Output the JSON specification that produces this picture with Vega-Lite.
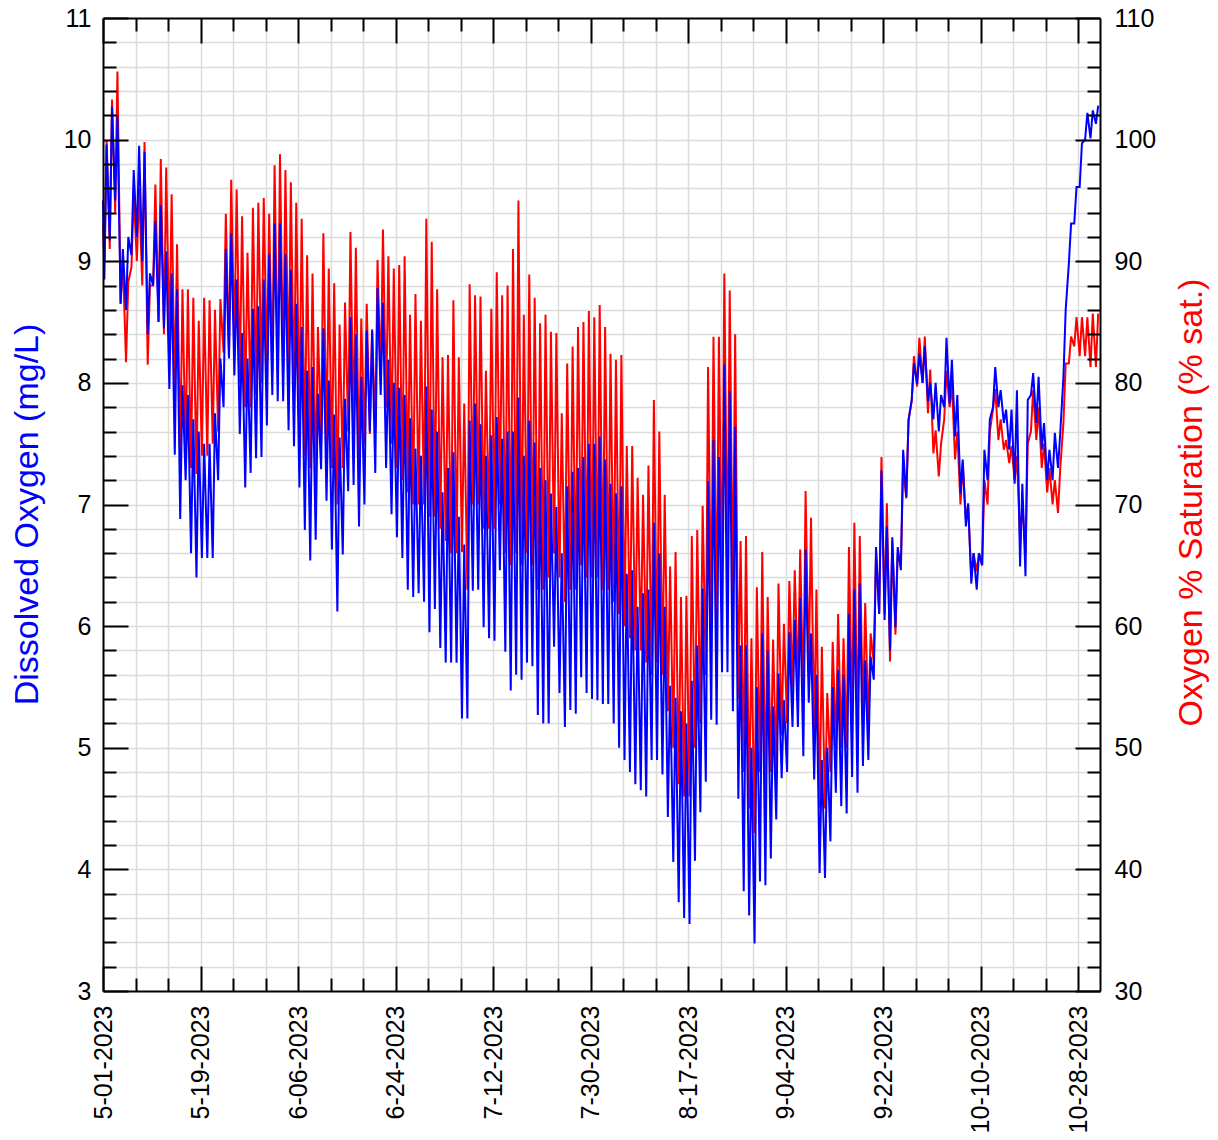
{
"$schema":"https://vega.github.io/schema/vega-lite/v6.json",
"width":997,"height":973,
"autosize":"none",
"padding":{"left":103,"top":18,"right":118,"bottom":149},
"background":"white",
"config":{"view":{"stroke":null},"axis":{"labelFont":"Liberation Sans","titleFont":"Liberation Sans","labelColor":"black","tickColor":"black","tickWidth":2,"domainColor":"black","domainWidth":2,"gridColor":"#dcdcdc","gridWidth":1.5,"labelFlush":false,"labelOverlap":false,"labelBound":false,"titleFontWeight":"normal"}},
"data":{"values":[
{"t":"2023-05-01T00:00","o":9.5,"s":93},
{"t":"2023-05-01T06:00","o":8.85,"s":90},{"t":"2023-05-01T16:00","o":9.96,"s":99.9},
{"t":"2023-05-02T06:00","o":9.17,"s":91},{"t":"2023-05-02T16:00","o":10.27,"s":103.3},
{"t":"2023-05-03T06:00","o":9.5,"s":94},{"t":"2023-05-03T16:00","o":10.2,"s":105.6},
{"t":"2023-05-04T06:00","o":8.65,"s":86.5},{"t":"2023-05-04T16:00","o":9.1,"s":90},
{"t":"2023-05-05T06:00","o":8.6,"s":81.7},{"t":"2023-05-05T16:00","o":9.2,"s":88.3},
{"t":"2023-05-06T06:00","o":9.05,"s":89.5},{"t":"2023-05-06T16:00","o":9.75,"s":95.5},
{"t":"2023-05-07T06:00","o":9.2,"s":90},{"t":"2023-05-07T16:00","o":9.95,"s":96},
{"t":"2023-05-08T06:00","o":9.0,"s":88},{"t":"2023-05-08T16:00","o":9.9,"s":99.8},
{"t":"2023-05-09T06:00","o":8.4,"s":81.5},{"t":"2023-05-09T16:00","o":8.9,"s":88},
{"t":"2023-05-10T06:00","o":8.8,"s":88},{"t":"2023-05-10T16:00","o":9.33,"s":96.3},
{"t":"2023-05-11T06:00","o":8.5,"s":85},{"t":"2023-05-11T16:00","o":9.46,"s":98.4},
{"t":"2023-05-12T06:00","o":8.45,"s":84},{"t":"2023-05-12T16:00","o":9.08,"s":97.7},
{"t":"2023-05-13T06:00","o":7.95,"s":83},{"t":"2023-05-13T16:00","o":8.9,"s":95.5},
{"t":"2023-05-14T06:00","o":7.41,"s":79},{"t":"2023-05-14T16:00","o":8.77,"s":91.4},
{"t":"2023-05-15T06:00","o":6.88,"s":74},{"t":"2023-05-15T16:00","o":7.98,"s":87.7},
{"t":"2023-05-16T06:00","o":7.2,"s":74},{"t":"2023-05-16T16:00","o":7.9,"s":87.7},
{"t":"2023-05-17T06:00","o":6.6,"s":73},{"t":"2023-05-17T16:00","o":7.7,"s":87},
{"t":"2023-05-18T06:00","o":6.4,"s":72.5},{"t":"2023-05-18T16:00","o":7.6,"s":85.1},
{"t":"2023-05-19T06:00","o":6.56,"s":74},{"t":"2023-05-19T16:00","o":7.5,"s":87},
{"t":"2023-05-20T06:00","o":6.56,"s":74},{"t":"2023-05-20T16:00","o":7.5,"s":86.8},
{"t":"2023-05-21T06:00","o":6.56,"s":75},{"t":"2023-05-21T16:00","o":7.75,"s":86},
{"t":"2023-05-22T06:00","o":7.2,"s":76},{"t":"2023-05-22T16:00","o":8.2,"s":86.9},
{"t":"2023-05-23T06:00","o":7.8,"s":82.5},{"t":"2023-05-23T16:00","o":9.1,"s":93.9},
{"t":"2023-05-24T06:00","o":8.2,"s":82.3},{"t":"2023-05-24T16:00","o":9.23,"s":96.7},
{"t":"2023-05-25T06:00","o":8.06,"s":83},{"t":"2023-05-25T16:00","o":8.85,"s":95.9},
{"t":"2023-05-26T06:00","o":7.58,"s":80},{"t":"2023-05-26T16:00","o":8.41,"s":93.7},
{"t":"2023-05-27T06:00","o":7.14,"s":78},{"t":"2023-05-27T16:00","o":8.2,"s":90.7},
{"t":"2023-05-28T06:00","o":7.26,"s":78},{"t":"2023-05-28T16:00","o":8.61,"s":94.4},
{"t":"2023-05-29T06:00","o":7.38,"s":79},{"t":"2023-05-29T16:00","o":8.63,"s":94.8},
{"t":"2023-05-30T06:00","o":7.39,"s":80},{"t":"2023-05-30T16:00","o":8.85,"s":95.2},
{"t":"2023-05-31T06:00","o":7.65,"s":81},{"t":"2023-05-31T16:00","o":9.06,"s":93.9},
{"t":"2023-06-01T06:00","o":7.9,"s":80.8},{"t":"2023-06-01T16:00","o":9.31,"s":97.9},
{"t":"2023-06-02T06:00","o":7.85,"s":80.4},{"t":"2023-06-02T16:00","o":9.31,"s":98.8},
{"t":"2023-06-03T06:00","o":7.85,"s":81},{"t":"2023-06-03T16:00","o":9.06,"s":97.5},
{"t":"2023-06-04T06:00","o":7.61,"s":80},{"t":"2023-06-04T16:00","o":8.93,"s":96.5},
{"t":"2023-06-05T06:00","o":7.48,"s":79},{"t":"2023-06-05T16:00","o":8.65,"s":94.8},
{"t":"2023-06-06T06:00","o":7.14,"s":77},{"t":"2023-06-06T16:00","o":8.46,"s":93.5},
{"t":"2023-06-07T06:00","o":6.79,"s":74},{"t":"2023-06-07T16:00","o":8.1,"s":90.5},
{"t":"2023-06-08T06:00","o":6.54,"s":73},{"t":"2023-06-08T16:00","o":8.13,"s":89},
{"t":"2023-06-09T06:00","o":6.71,"s":72},{"t":"2023-06-09T16:00","o":7.91,"s":84.6},
{"t":"2023-06-10T06:00","o":7.29,"s":75},{"t":"2023-06-10T16:00","o":8.45,"s":92.3},
{"t":"2023-06-11T06:00","o":7.03,"s":75},{"t":"2023-06-11T16:00","o":8.02,"s":89.4},
{"t":"2023-06-12T06:00","o":6.63,"s":73},{"t":"2023-06-12T16:00","o":7.74,"s":88.2},
{"t":"2023-06-13T06:00","o":6.12,"s":70},{"t":"2023-06-13T16:00","o":7.55,"s":84.8},
{"t":"2023-06-14T06:00","o":6.59,"s":73},{"t":"2023-06-14T16:00","o":7.87,"s":86.6},
{"t":"2023-06-15T06:00","o":7.11,"s":76},{"t":"2023-06-15T16:00","o":8.54,"s":92.4},
{"t":"2023-06-16T06:00","o":7.16,"s":76},{"t":"2023-06-16T16:00","o":8.4,"s":91.1},
{"t":"2023-06-17T06:00","o":6.82,"s":73},{"t":"2023-06-17T16:00","o":8.05,"s":85.3},
{"t":"2023-06-18T06:00","o":7.0,"s":75},{"t":"2023-06-18T16:00","o":8.43,"s":86.5},
{"t":"2023-06-19T06:00","o":7.6,"s":75.8},{"t":"2023-06-19T16:00","o":8.43,"s":84.4},
{"t":"2023-06-20T06:00","o":7.26,"s":76},{"t":"2023-06-20T16:00","o":8.78,"s":90.1},
{"t":"2023-06-21T06:00","o":7.9,"s":80},{"t":"2023-06-21T16:00","o":8.66,"s":92.6},
{"t":"2023-06-22T06:00","o":7.3,"s":78},{"t":"2023-06-22T16:00","o":8.19,"s":90.4},
{"t":"2023-06-23T06:00","o":6.92,"s":75},{"t":"2023-06-23T16:00","o":8.0,"s":89.4},
{"t":"2023-06-24T06:00","o":6.73,"s":73},{"t":"2023-06-24T16:00","o":7.96,"s":89.7},
{"t":"2023-06-25T06:00","o":6.56,"s":72},{"t":"2023-06-25T16:00","o":7.9,"s":90.4},
{"t":"2023-06-26T06:00","o":6.3,"s":71},{"t":"2023-06-26T16:00","o":7.71,"s":85.6},
{"t":"2023-06-27T06:00","o":6.24,"s":70},{"t":"2023-06-27T16:00","o":7.46,"s":87.3},
{"t":"2023-06-28T06:00","o":6.27,"s":70},{"t":"2023-06-28T16:00","o":7.4,"s":85.1},
{"t":"2023-06-29T06:00","o":6.2,"s":70},{"t":"2023-06-29T16:00","o":7.97,"s":93.5},
{"t":"2023-06-30T06:00","o":5.95,"s":69},{"t":"2023-06-30T16:00","o":7.78,"s":91.6},
{"t":"2023-07-01T06:00","o":6.14,"s":69},{"t":"2023-07-01T16:00","o":7.6,"s":87.7},
{"t":"2023-07-02T06:00","o":5.82,"s":68},{"t":"2023-07-02T16:00","o":7.1,"s":82.1},
{"t":"2023-07-03T06:00","o":5.7,"s":67},{"t":"2023-07-03T16:00","o":7.3,"s":82.3},
{"t":"2023-07-04T06:00","o":5.7,"s":66},{"t":"2023-07-04T16:00","o":7.43,"s":86.8},
{"t":"2023-07-05T06:00","o":5.7,"s":66},{"t":"2023-07-05T16:00","o":6.9,"s":82.1},
{"t":"2023-07-06T06:00","o":5.24,"s":66.1},{"t":"2023-07-06T16:00","o":6.67,"s":78.3},
{"t":"2023-07-07T06:00","o":5.24,"s":63},{"t":"2023-07-07T16:00","o":7.69,"s":88.1},
{"t":"2023-07-08T06:00","o":6.29,"s":70},{"t":"2023-07-08T16:00","o":7.83,"s":87.2},
{"t":"2023-07-09T06:00","o":6.3,"s":70},{"t":"2023-07-09T16:00","o":7.66,"s":87.1},
{"t":"2023-07-10T06:00","o":5.99,"s":68},{"t":"2023-07-10T16:00","o":7.4,"s":81},
{"t":"2023-07-11T06:00","o":5.9,"s":68},{"t":"2023-07-11T16:00","o":7.57,"s":86.1},
{"t":"2023-07-12T06:00","o":5.88,"s":68},{"t":"2023-07-12T16:00","o":7.72,"s":89.1},
{"t":"2023-07-13T06:00","o":6.46,"s":70},{"t":"2023-07-13T16:00","o":7.54,"s":87.2},
{"t":"2023-07-14T06:00","o":5.79,"s":66},{"t":"2023-07-14T16:00","o":7.6,"s":88},
{"t":"2023-07-15T06:00","o":5.47,"s":65},{"t":"2023-07-15T16:00","o":7.6,"s":91},
{"t":"2023-07-16T06:00","o":5.6,"s":66},{"t":"2023-07-16T16:00","o":7.88,"s":95},
{"t":"2023-07-17T06:00","o":5.56,"s":65},{"t":"2023-07-17T16:00","o":7.4,"s":85.6},
{"t":"2023-07-18T06:00","o":5.7,"s":66},{"t":"2023-07-18T16:00","o":7.69,"s":88.9},
{"t":"2023-07-19T06:00","o":5.67,"s":65},{"t":"2023-07-19T16:00","o":7.51,"s":87},
{"t":"2023-07-20T06:00","o":5.27,"s":63},{"t":"2023-07-20T16:00","o":7.3,"s":84.9},
{"t":"2023-07-21T06:00","o":5.2,"s":63},{"t":"2023-07-21T16:00","o":7.2,"s":85.6},
{"t":"2023-07-22T06:00","o":5.2,"s":64},{"t":"2023-07-22T16:00","o":7.09,"s":84.2},
{"t":"2023-07-23T06:00","o":5.83,"s":66},{"t":"2023-07-23T16:00","o":6.98,"s":84.1},
{"t":"2023-07-24T06:00","o":5.45,"s":64},{"t":"2023-07-24T16:00","o":6.6,"s":77.5},
{"t":"2023-07-25T06:00","o":5.17,"s":62},{"t":"2023-07-25T16:00","o":7.15,"s":81.6},
{"t":"2023-07-26T06:00","o":5.31,"s":63},{"t":"2023-07-26T16:00","o":7.27,"s":83},
{"t":"2023-07-27T06:00","o":5.28,"s":63},{"t":"2023-07-27T16:00","o":7.3,"s":84.6},
{"t":"2023-07-28T06:00","o":5.58,"s":65},{"t":"2023-07-28T16:00","o":7.39,"s":85},
{"t":"2023-07-29T06:00","o":5.45,"s":64},{"t":"2023-07-29T16:00","o":7.5,"s":85.9},
{"t":"2023-07-30T06:00","o":5.4,"s":64},{"t":"2023-07-30T16:00","o":7.5,"s":85.4},
{"t":"2023-07-31T06:00","o":5.39,"s":64},{"t":"2023-07-31T16:00","o":7.56,"s":86.4},
{"t":"2023-08-01T06:00","o":5.36,"s":63},{"t":"2023-08-01T16:00","o":7.37,"s":84.6},
{"t":"2023-08-02T06:00","o":5.36,"s":63},{"t":"2023-08-02T16:00","o":7.17,"s":82.4},
{"t":"2023-08-03T06:00","o":5.2,"s":62},{"t":"2023-08-03T16:00","o":7.09,"s":81.9},
{"t":"2023-08-04T06:00","o":5.0,"s":61},{"t":"2023-08-04T16:00","o":7.15,"s":82.3},
{"t":"2023-08-05T06:00","o":4.9,"s":60},{"t":"2023-08-05T16:00","o":6.43,"s":74.8},
{"t":"2023-08-06T06:00","o":4.8,"s":59},{"t":"2023-08-06T16:00","o":6.46,"s":74.8},
{"t":"2023-08-07T06:00","o":4.7,"s":58},{"t":"2023-08-07T16:00","o":6.16,"s":72.2},
{"t":"2023-08-08T06:00","o":4.65,"s":58},{"t":"2023-08-08T16:00","o":6.27,"s":70.8},
{"t":"2023-08-09T06:00","o":4.6,"s":57},{"t":"2023-08-09T16:00","o":6.3,"s":73.2},
{"t":"2023-08-10T06:00","o":4.9,"s":56},{"t":"2023-08-10T16:00","o":6.85,"s":78.6},
{"t":"2023-08-11T06:00","o":4.9,"s":57},{"t":"2023-08-11T16:00","o":6.6,"s":76},
{"t":"2023-08-12T06:00","o":4.78,"s":56},{"t":"2023-08-12T16:00","o":6.16,"s":70.8},
{"t":"2023-08-13T06:00","o":4.43,"s":53},{"t":"2023-08-13T16:00","o":5.51,"s":64.9},
{"t":"2023-08-14T06:00","o":4.06,"s":50},{"t":"2023-08-14T16:00","o":5.41,"s":66.1},
{"t":"2023-08-15T06:00","o":3.73,"s":47},{"t":"2023-08-15T16:00","o":5.3,"s":62.4},
{"t":"2023-08-16T06:00","o":3.6,"s":46},{"t":"2023-08-16T16:00","o":5.2,"s":62.5},
{"t":"2023-08-17T06:00","o":3.55,"s":46},{"t":"2023-08-17T16:00","o":5.55,"s":67.4},
{"t":"2023-08-18T06:00","o":4.07,"s":50},{"t":"2023-08-18T16:00","o":5.84,"s":67.9},
{"t":"2023-08-19T06:00","o":4.47,"s":52},{"t":"2023-08-19T16:00","o":6.31,"s":69.9},
{"t":"2023-08-20T06:00","o":4.72,"s":56},{"t":"2023-08-20T16:00","o":7.19,"s":81.3},
{"t":"2023-08-21T06:00","o":5.23,"s":60},{"t":"2023-08-21T16:00","o":7.53,"s":83.8},
{"t":"2023-08-22T06:00","o":5.19,"s":60},{"t":"2023-08-22T16:00","o":7.39,"s":83.8},
{"t":"2023-08-23T06:00","o":5.62,"s":63},{"t":"2023-08-23T16:00","o":8.15,"s":89},
{"t":"2023-08-24T06:00","o":5.62,"s":64},{"t":"2023-08-24T16:00","o":7.93,"s":87.6},
{"t":"2023-08-25T06:00","o":5.3,"s":62},{"t":"2023-08-25T16:00","o":7.64,"s":84},
{"t":"2023-08-26T06:00","o":4.58,"s":54},{"t":"2023-08-26T16:00","o":5.84,"s":67},
{"t":"2023-08-27T06:00","o":3.82,"s":48},{"t":"2023-08-27T16:00","o":5.84,"s":67.4},
{"t":"2023-08-28T06:00","o":3.62,"s":45},{"t":"2023-08-28T16:00","o":5.0,"s":59},
{"t":"2023-08-29T06:00","o":3.39,"s":43},{"t":"2023-08-29T16:00","o":5.5,"s":63.2},
{"t":"2023-08-30T06:00","o":3.9,"s":48},{"t":"2023-08-30T16:00","o":5.94,"s":66.1},
{"t":"2023-08-31T06:00","o":3.87,"s":46},{"t":"2023-08-31T16:00","o":5.8,"s":62.4},
{"t":"2023-09-01T06:00","o":4.09,"s":48},{"t":"2023-09-01T16:00","o":5.34,"s":58.9},
{"t":"2023-09-02T06:00","o":4.41,"s":48},{"t":"2023-09-02T16:00","o":5.61,"s":63.5},
{"t":"2023-09-03T06:00","o":4.75,"s":51},{"t":"2023-09-03T16:00","o":5.39,"s":60.2},
{"t":"2023-09-04T06:00","o":4.8,"s":52},{"t":"2023-09-04T16:00","o":5.95,"s":63.7},
{"t":"2023-09-05T06:00","o":5.17,"s":55},{"t":"2023-09-05T16:00","o":6.05,"s":64.6},
{"t":"2023-09-06T06:00","o":5.17,"s":55},{"t":"2023-09-06T16:00","o":6.23,"s":66.3},
{"t":"2023-09-07T06:00","o":4.93,"s":54},{"t":"2023-09-07T16:00","o":6.63,"s":71.1},
{"t":"2023-09-08T06:00","o":5.37,"s":56},{"t":"2023-09-08T16:00","o":5.94,"s":68.9},
{"t":"2023-09-09T06:00","o":4.74,"s":51},{"t":"2023-09-09T16:00","o":5.6,"s":63},
{"t":"2023-09-10T06:00","o":3.97,"s":45},{"t":"2023-09-10T16:00","o":4.9,"s":58.3},
{"t":"2023-09-11T06:00","o":3.93,"s":45},{"t":"2023-09-11T16:00","o":5.0,"s":54.5},
{"t":"2023-09-12T06:00","o":4.23,"s":48},{"t":"2023-09-12T16:00","o":5.5,"s":58.7},
{"t":"2023-09-13T06:00","o":4.63,"s":50},{"t":"2023-09-13T16:00","o":5.64,"s":61},
{"t":"2023-09-14T06:00","o":4.52,"s":50},{"t":"2023-09-14T16:00","o":5.6,"s":59},
{"t":"2023-09-15T06:00","o":4.46,"s":50},{"t":"2023-09-15T16:00","o":6.1,"s":66.5},
{"t":"2023-09-16T06:00","o":4.76,"s":52},{"t":"2023-09-16T16:00","o":6.3,"s":68.5},
{"t":"2023-09-17T06:00","o":4.63,"s":51},{"t":"2023-09-17T16:00","o":6.35,"s":67.4},
{"t":"2023-09-18T06:00","o":4.85,"s":52},{"t":"2023-09-18T16:00","o":5.72,"s":61.9},
{"t":"2023-09-19T06:00","o":4.9,"s":52},{"t":"2023-09-19T16:00","o":5.75,"s":59.4},
{"t":"2023-09-20T06:00","o":5.56,"s":57},{"t":"2023-09-20T16:00","o":6.65,"s":66},
{"t":"2023-09-21T06:00","o":6.1,"s":61},{"t":"2023-09-21T16:00","o":7.28,"s":73.9},
{"t":"2023-09-22T06:00","o":6.05,"s":61},{"t":"2023-09-22T16:00","o":6.82,"s":70.1},
{"t":"2023-09-23T06:00","o":5.8,"s":57.1},{"t":"2023-09-23T16:00","o":6.73,"s":67},
{"t":"2023-09-24T06:00","o":5.99,"s":59.3},{"t":"2023-09-24T16:00","o":6.65,"s":66},
{"t":"2023-09-25T06:00","o":6.46,"s":65},{"t":"2023-09-25T16:00","o":7.45,"s":73},
{"t":"2023-09-26T06:00","o":7.06,"s":70.5},{"t":"2023-09-26T16:00","o":7.69,"s":77},
{"t":"2023-09-27T06:00","o":7.86,"s":78.5},{"t":"2023-09-27T16:00","o":8.16,"s":82.2},
{"t":"2023-09-28T06:00","o":7.99,"s":79.7},{"t":"2023-09-28T16:00","o":8.24,"s":83.7},
{"t":"2023-09-29T06:00","o":8.0,"s":80},{"t":"2023-09-29T16:00","o":8.3,"s":83.8},
{"t":"2023-09-30T06:00","o":7.85,"s":77.5},{"t":"2023-09-30T16:00","o":8.0,"s":81.1},
{"t":"2023-10-01T06:00","o":7.7,"s":74.2},{"t":"2023-10-01T16:00","o":8.0,"s":76.1},
{"t":"2023-10-02T06:00","o":7.6,"s":72.3},{"t":"2023-10-02T16:00","o":7.9,"s":75},
{"t":"2023-10-03T06:00","o":7.8,"s":77},{"t":"2023-10-03T16:00","o":8.37,"s":81},
{"t":"2023-10-04T06:00","o":7.83,"s":78},{"t":"2023-10-04T16:00","o":8.19,"s":80},
{"t":"2023-10-05T06:00","o":7.56,"s":73.7},{"t":"2023-10-05T16:00","o":7.9,"s":76},
{"t":"2023-10-06T06:00","o":7.09,"s":70},{"t":"2023-10-06T16:00","o":7.37,"s":73.4},
{"t":"2023-10-07T06:00","o":6.82,"s":68.7},{"t":"2023-10-07T16:00","o":7.01,"s":70},
{"t":"2023-10-08T06:00","o":6.35,"s":64},{"t":"2023-10-08T16:00","o":6.6,"s":66},
{"t":"2023-10-09T06:00","o":6.3,"s":64.5},{"t":"2023-10-09T16:00","o":6.6,"s":66},
{"t":"2023-10-10T06:00","o":6.5,"s":65},{"t":"2023-10-10T16:00","o":7.45,"s":72},
{"t":"2023-10-11T06:00","o":7.2,"s":70},{"t":"2023-10-11T16:00","o":7.7,"s":76},
{"t":"2023-10-12T06:00","o":7.8,"s":77.8},{"t":"2023-10-12T16:00","o":8.13,"s":79.5},
{"t":"2023-10-13T06:00","o":7.8,"s":75.3},{"t":"2023-10-13T16:00","o":7.94,"s":77},
{"t":"2023-10-14T06:00","o":7.67,"s":74.5},{"t":"2023-10-14T16:00","o":7.78,"s":75.3},
{"t":"2023-10-15T06:00","o":7.45,"s":73.4},{"t":"2023-10-15T16:00","o":7.78,"s":74.8},
{"t":"2023-10-16T06:00","o":7.17,"s":72},{"t":"2023-10-16T16:00","o":7.94,"s":74},
{"t":"2023-10-17T06:00","o":6.49,"s":67},{"t":"2023-10-17T16:00","o":7.17,"s":70},
{"t":"2023-10-18T06:00","o":6.41,"s":66},{"t":"2023-10-18T16:00","o":7.86,"s":75},
{"t":"2023-10-19T06:00","o":7.9,"s":76},{"t":"2023-10-19T16:00","o":8.08,"s":79.4},
{"t":"2023-10-20T06:00","o":7.67,"s":75.3},{"t":"2023-10-20T16:00","o":8.05,"s":78},
{"t":"2023-10-21T06:00","o":7.45,"s":73},{"t":"2023-10-21T16:00","o":7.67,"s":75},
{"t":"2023-10-22T06:00","o":7.2,"s":71},{"t":"2023-10-22T16:00","o":7.45,"s":73},
{"t":"2023-10-23T06:00","o":7.2,"s":70},{"t":"2023-10-23T16:00","o":7.59,"s":72},
{"t":"2023-10-24T06:00","o":7.3,"s":69.3},{"t":"2023-10-24T16:00","o":7.59,"s":73},
{"t":"2023-10-25T06:00","o":8.05,"s":76.7},{"t":"2023-10-25T16:00","o":8.6,"s":81.6},
{"t":"2023-10-26T06:00","o":8.98,"s":81.6},{"t":"2023-10-26T16:00","o":9.31,"s":83.8},
{"t":"2023-10-27T06:00","o":9.31,"s":83},{"t":"2023-10-27T16:00","o":9.61,"s":85.4},
{"t":"2023-10-28T06:00","o":9.61,"s":82.2},{"t":"2023-10-28T16:00","o":9.97,"s":85.4},
{"t":"2023-10-29T06:00","o":10.0,"s":82.2},{"t":"2023-10-29T16:00","o":10.22,"s":85.4},
{"t":"2023-10-30T06:00","o":10.01,"s":81.3},{"t":"2023-10-30T16:00","o":10.24,"s":85.7},
{"t":"2023-10-31T06:00","o":10.13,"s":81.3},{"t":"2023-10-31T16:00","o":10.28,"s":85.7}
]},
"layer":[
{"mark":{"type":"line","color":"#ff0000","strokeWidth":2},
 "encoding":{
  "x":{"field":"t","type":"temporal","scale":{"domain":[{"year":2023,"month":5,"date":1},{"year":2023,"month":11,"date":1}]},
       "axis":{"orient":"top","values":[{"year":2023,"month":5,"date":1},{"year":2023,"month":5,"date":19},{"year":2023,"month":6,"date":6},{"year":2023,"month":6,"date":24},{"year":2023,"month":7,"date":12},{"year":2023,"month":7,"date":30},{"year":2023,"month":8,"date":17},{"year":2023,"month":9,"date":4},{"year":2023,"month":9,"date":22},{"year":2023,"month":10,"date":10},{"year":2023,"month":10,"date":28}],
               "labels":false,"tickSize":-25,"grid":false,"domain":true,"title":null,"zindex":1}},
  "y":{"field":"s","type":"quantitative","scale":{"domain":[30,110],"nice":false,"zero":false},
       "axis":{"orient":"right","values":[30,40,50,60,70,80,90,100,110],"tickSize":-25,"labelPadding":39,"labelFontSize":25,"grid":false,"domain":true,"zindex":1,
               "title":"Oxygen % Saturation (% sat.)","titleColor":"#ff0000","titleFontSize":34,"titleAngle":270,"titleX":91,"titleY":484,"titleAlign":"center","titleBaseline":"middle"}}
 }},
{"mark":{"type":"line","color":"#0000ff","strokeWidth":2},
 "encoding":{
  "x":{"field":"t","type":"temporal","scale":{"domain":[{"year":2023,"month":5,"date":1},{"year":2023,"month":11,"date":1}]},
       "axis":{"orient":"bottom","values":[{"year":2023,"month":5,"date":1},{"year":2023,"month":5,"date":19},{"year":2023,"month":6,"date":6},{"year":2023,"month":6,"date":24},{"year":2023,"month":7,"date":12},{"year":2023,"month":7,"date":30},{"year":2023,"month":8,"date":17},{"year":2023,"month":9,"date":4},{"year":2023,"month":9,"date":22},{"year":2023,"month":10,"date":10},{"year":2023,"month":10,"date":28}],
               "format":"%-m-%d-%Y","labelAngle":270,"labelFontSize":25,"labelPadding":39,"tickSize":-25,"grid":false,"domain":true,"title":null,"zindex":1}},
  "y":{"field":"o","type":"quantitative","scale":{"domain":[3,11],"nice":false,"zero":false},
       "axis":{"orient":"left","values":[3,4,5,6,7,8,9,10,11],"tickSize":-25,"labelPadding":37,"labelFontSize":25,"grid":false,"domain":true,"zindex":1,
               "title":"Dissolved Oxygen (mg/L)","titleColor":"#0000ff","titleFontSize":34,"titleAngle":270,"titleX":-76,"titleY":496,"titleAlign":"center","titleBaseline":"middle"}}
 }},
{"mark":{"type":"line","opacity":0},
 "encoding":{
  "x":{"field":"t","type":"temporal","scale":{"domain":[{"year":2023,"month":5,"date":1},{"year":2023,"month":11,"date":1}]},
       "axis":{"orient":"bottom","values":[{"year":2023,"month":5,"date":7},{"year":2023,"month":5,"date":13},{"year":2023,"month":5,"date":19},{"year":2023,"month":5,"date":25},{"year":2023,"month":5,"date":31},{"year":2023,"month":6,"date":6},{"year":2023,"month":6,"date":12},{"year":2023,"month":6,"date":18},{"year":2023,"month":6,"date":24},{"year":2023,"month":6,"date":30},{"year":2023,"month":7,"date":6},{"year":2023,"month":7,"date":12},{"year":2023,"month":7,"date":18},{"year":2023,"month":7,"date":24},{"year":2023,"month":7,"date":30},{"year":2023,"month":8,"date":5},{"year":2023,"month":8,"date":11},{"year":2023,"month":8,"date":17},{"year":2023,"month":8,"date":23},{"year":2023,"month":8,"date":29},{"year":2023,"month":9,"date":4},{"year":2023,"month":9,"date":10},{"year":2023,"month":9,"date":16},{"year":2023,"month":9,"date":22},{"year":2023,"month":9,"date":28},{"year":2023,"month":10,"date":4},{"year":2023,"month":10,"date":10},{"year":2023,"month":10,"date":16},{"year":2023,"month":10,"date":22},{"year":2023,"month":10,"date":28}],
               "labels":false,"ticks":false,"grid":true,"domain":false,"title":null,"zindex":0}},
  "y":{"field":"o","type":"quantitative","scale":{"domain":[3,11],"nice":false,"zero":false},
       "axis":{"orient":"left","values":[3.2,3.4,3.6,3.8,4,4.2,4.4,4.6,4.8,5,5.2,5.4,5.6,5.8,6,6.2,6.4,6.6,6.8,7,7.2,7.4,7.6,7.8,8,8.2,8.4,8.6,8.8,9,9.2,9.4,9.6,9.8,10,10.2,10.4,10.6,10.8],
               "labels":false,"ticks":false,"grid":true,"domain":false,"title":null,"zindex":0}}
 }},
{"mark":{"type":"line","opacity":0},
 "encoding":{
  "x":{"field":"t","type":"temporal","scale":{"domain":[{"year":2023,"month":5,"date":1},{"year":2023,"month":11,"date":1}]},
       "axis":{"orient":"top","values":[{"year":2023,"month":5,"date":7},{"year":2023,"month":5,"date":13},{"year":2023,"month":5,"date":25},{"year":2023,"month":5,"date":31},{"year":2023,"month":6,"date":12},{"year":2023,"month":6,"date":18},{"year":2023,"month":6,"date":30},{"year":2023,"month":7,"date":6},{"year":2023,"month":7,"date":18},{"year":2023,"month":7,"date":24},{"year":2023,"month":8,"date":5},{"year":2023,"month":8,"date":11},{"year":2023,"month":8,"date":23},{"year":2023,"month":8,"date":29},{"year":2023,"month":9,"date":10},{"year":2023,"month":9,"date":16},{"year":2023,"month":9,"date":28},{"year":2023,"month":10,"date":4},{"year":2023,"month":10,"date":16},{"year":2023,"month":10,"date":22}],
               "labels":false,"tickSize":-13,"grid":false,"domain":false,"title":null,"zindex":1}},
  "y":{"field":"s","type":"quantitative","scale":{"domain":[30,110],"nice":false,"zero":false},
       "axis":{"orient":"right","values":[32,34,36,38,42,44,46,48,52,54,56,58,62,64,66,68,72,74,76,78,82,84,86,88,92,94,96,98,102,104,106,108],
               "labels":false,"tickSize":-13,"grid":false,"domain":false,"title":null,"zindex":1}}
 }},
{"mark":{"type":"line","opacity":0},
 "encoding":{
  "x":{"field":"t","type":"temporal","scale":{"domain":[{"year":2023,"month":5,"date":1},{"year":2023,"month":11,"date":1}]},
       "axis":{"orient":"bottom","values":[{"year":2023,"month":5,"date":7},{"year":2023,"month":5,"date":13},{"year":2023,"month":5,"date":25},{"year":2023,"month":5,"date":31},{"year":2023,"month":6,"date":12},{"year":2023,"month":6,"date":18},{"year":2023,"month":6,"date":30},{"year":2023,"month":7,"date":6},{"year":2023,"month":7,"date":18},{"year":2023,"month":7,"date":24},{"year":2023,"month":8,"date":5},{"year":2023,"month":8,"date":11},{"year":2023,"month":8,"date":23},{"year":2023,"month":8,"date":29},{"year":2023,"month":9,"date":10},{"year":2023,"month":9,"date":16},{"year":2023,"month":9,"date":28},{"year":2023,"month":10,"date":4},{"year":2023,"month":10,"date":16},{"year":2023,"month":10,"date":22}],
               "labels":false,"tickSize":-13,"grid":false,"domain":false,"title":null,"zindex":1}},
  "y":{"field":"o","type":"quantitative","scale":{"domain":[3,11],"nice":false,"zero":false},
       "axis":{"orient":"left","values":[3.2,3.4,3.6,3.8,4.2,4.4,4.6,4.8,5.2,5.4,5.6,5.8,6.2,6.4,6.6,6.8,7.2,7.4,7.6,7.8,8.2,8.4,8.6,8.8,9.2,9.4,9.6,9.8,10.2,10.4,10.6,10.8],
               "labels":false,"tickSize":-13,"grid":false,"domain":false,"title":null,"zindex":1}}
 }}
],
"resolve":{"scale":{"y":"independent"},"axis":{"x":"independent","y":"independent"}}
}
